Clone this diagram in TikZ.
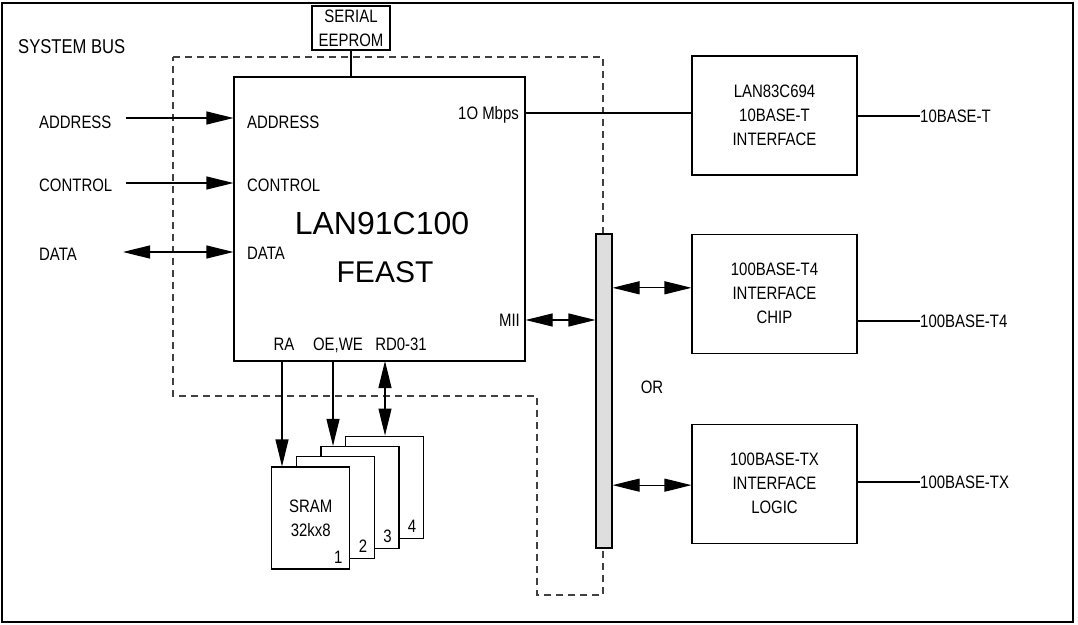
\documentclass[tikz,border=0pt]{standalone}
\usepackage{fontspec}
\setmainfont{Liberation Sans}[FakeStretch=0.83]
\newfontfamily\chipfont{Liberation Sans}
\usepackage{tikz}
\usetikzlibrary{positioning}
\usetikzlibrary{arrows.meta}

\tikzset{
  box/.style={draw, line width=1.1pt, inner sep=0pt, align=center},
  sram/.style={box, fill=white, minimum width=78pt, minimum height=102pt},
  phy/.style={box, minimum width=165pt, minimum height=119pt},
  lbl/.style={inner sep=0pt, text height=13pt, text depth=0pt},
  wire/.style={line width=1.1pt},
  sig/.style={wire, -{Triangle[length=27pt,width=13pt]}},
  dsig/.style={wire, {Triangle[length=27pt,width=13pt]}-{Triangle[length=27pt,width=13pt]}}
}

\begin{document}
\begin{tikzpicture}[x=1pt, y=-1pt, font=\fontsize{18}{24}\selectfont]
\useasboundingbox (0,0) rectangle (1078,624);

% Draw the frame
\draw[line width=2pt] (2,3) rectangle (1073,622);
\node[lbl, anchor=west, font=\fontsize{20}{24}\selectfont] (sysbus) at (18,47) {SYSTEM BUS};

% Draw the dashed outline
\draw[line width=1.1pt, black!75, dash pattern=on 7pt off 5pt] (173,57) -- (603,57) -- (603,595) -- (537,595) -- (537,396) -- (173,396) -- cycle;

% Draw the controller
\node[box, minimum width=291pt, minimum height=284pt] (feast) at (379.5,219) {};
\node[font=\chipfont\fontsize{32}{36}\selectfont] (chipname) at (382,223) {LAN91C100};
\node[font=\chipfont\fontsize{30}{36}\selectfont] (chiptype) at (385,272) {FEAST};

% Pin labels
\node[lbl, anchor=west] (pinaddr) at (247,122) {ADDRESS};
\node[lbl, anchor=west] (pinctrl) at (247,185) {CONTROL};
\node[lbl, anchor=west] (pindata) at (247,253) {DATA};
\node[lbl, anchor=east] (pinmbps) at (519,113) {1O Mbps};
\node[lbl, anchor=east] (pinmii) at (520,320) {MII};
\node[lbl] (pinra) at (284,344) {RA};
\node[lbl] (pinoe) at (338,344) {OE,WE};
\node[lbl] (pinrd) at (401,344) {RD0-31};

% Draw the system bus signals
\node[lbl, anchor=west] (addr) at (39,122) {ADDRESS};
\node[lbl, anchor=west] (ctrl) at (39,185) {CONTROL};
\node[lbl, anchor=west] (data) at (39,254) {DATA};
\coordinate (addrin) at (126,118);
\coordinate (ctrlin) at (126,183);
\coordinate (datain) at (123,252);
\draw[sig] (addrin) -- (addrin -| feast.west);
\draw[sig] (ctrlin) -- (ctrlin -| feast.west);
\draw[dsig] (datain) -- (datain -| feast.west);

% Draw the EEPROM
\node[box, minimum width=78pt, minimum height=44pt] (eeprom) at (351,28) {SERIAL\\EEPROM};
\draw[wire] (eeprom.south) -- (eeprom.south |- feast.north);

% Draw the SRAM stack
\foreach \i in {4,3,2}
{
  \node[sram] (sram\i) at ({310.75+24.6*(\i-1)},{518-10.3*(\i-1)}) {};
}
\node[sram] (sram1) at (310.75,518) {SRAM\\32kx8};
\foreach \i in {1,...,4}
{
  \node[lbl] (num\i) at ([shift={(-12,-13)}]sram\i.south east) {\i};
}

\coordinate (rabus) at (282,361);
\coordinate (oebus) at (333,361);
\coordinate (rdbus) at (385,361);
\draw[sig] (rabus) -- (rabus |- sram1.north);
\draw[sig] (oebus) -- (oebus |- sram3.north);
\draw[dsig] (rdbus) -- (rdbus |- sram4.north);

% Draw the MII bus
\node[draw, line width=1.1pt, fill=black!13, inner sep=0pt, minimum width=16pt, minimum height=314pt] (bus) at (604,391) {};
\node[lbl] (orlbl) at (652,387) {OR};

% Draw the PHYs
\node[phy] (phy10) at (774.5,115.5) {LAN83C694\\10BASE-T\\INTERFACE};
\node[phy, below=58pt of phy10] (phyt4) {100BASE-T4\\INTERFACE\\CHIP};
\node[phy, below=70pt of phyt4] (phytx) {100BASE-TX\\INTERFACE\\LOGIC};

\draw[wire] (feast.east |- pinmbps) -- (phy10.west |- pinmbps);
\draw[dsig] (feast.east |- pinmii) -- (bus.west |- pinmii);
\draw[dsig] (bus.east |- phyt4.176) -- (phyt4.176);
\draw[dsig] (bus.east |- phytx.181) -- (phytx.181);

% Draw the line outputs
\node[lbl, anchor=west] (out10) at (920,116) {10BASE-T};
\node[lbl, anchor=west] (outt4) at (920,321) {100BASE-T4};
\node[lbl, anchor=west] (outtx) at (920,482) {100BASE-TX};
\foreach \p/\o in {phy10/out10, phyt4/outt4, phytx/outtx}
{
  \draw[wire] (\p.east |- \o.west) -- (\o.west);
}

\end{tikzpicture}
\end{document}
